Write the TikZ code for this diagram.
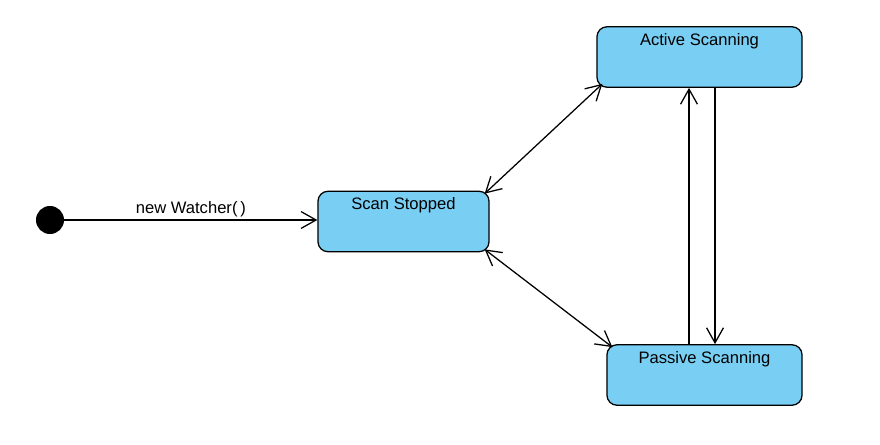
\documentclass[tikz,border=0pt]{standalone}
\usepackage{fontspec}
\setmainfont{Liberation Sans}
\usetikzlibrary{arrows.meta}
\definecolor{statefill}{RGB}{121,207,243}

\begin{document}
\begin{tikzpicture}[x=0.025cm,y=-0.025cm]
		\tikzstyle{state}=[draw=black, line width=0.9pt, fill=statefill, rounded corners=0.25cm, inner ysep=4.6pt, text height=8.5pt, text depth=25.3pt, font=\fontsize{11.8}{14}\selectfont]
		\tikzstyle{start_dot}=[circle, fill=black, minimum size=0.7cm, inner sep=0pt]
		\tikzstyle{trans}=[line width=0.9pt, >={Straight Barb[length=10.7pt,width=12pt]}]
		\tikzstyle{trans_text}=[font=\fontsize{11.8}{14}\selectfont, inner sep=2pt]

		\useasboundingbox (0,0) rectangle (880,445);

		\node [start_dot] (start) at (50,220) {};
		\node [state, minimum width=4.275cm] (stopped) at (403.5,221.5) {Scan Stopped};
		\node [state, minimum width=5.125cm] (active) at (699.5,57) {Active Scanning};
		\node [state, minimum width=4.875cm] (passive) at (704.5,375) {Passive Scanning};

		\draw [trans,->] (start) -- node [above, trans_text] {new Watcher(\,)} (start -| stopped.west);

		\draw [trans,<->] ([shift={(-5,3)}]stopped.north east) -- ([shift={(6,-4)}]active.south west);
		\draw [trans,<->] ([shift={(-5,-3)}]stopped.south east) -- ([shift={(6,3)}]passive.north west);

		\draw [trans,->] ([shift={(-15.5,0)}]passive.north) -- ([shift={(-15.5,0)}]passive.north |- active.south);
		\draw [trans,->] ([shift={(15.5,0)}]active.south) -- ([shift={(15.5,0)}]active.south |- passive.north);

	\end{tikzpicture}
\end{document}
